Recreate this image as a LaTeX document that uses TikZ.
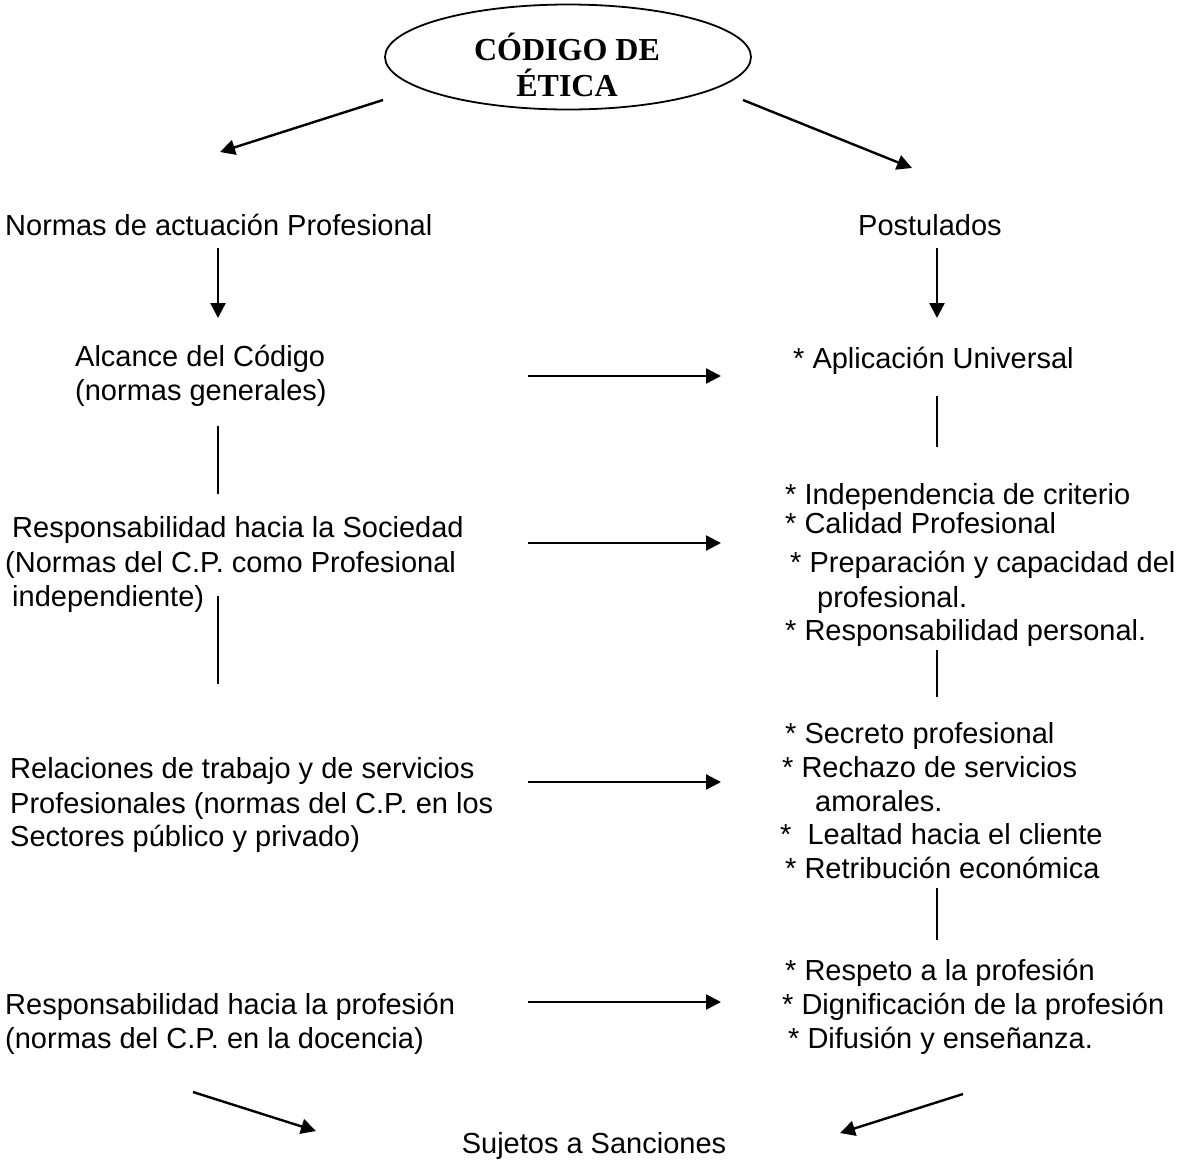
\documentclass[tikz,border=0pt]{standalone}
\usepackage{fontspec}
\setmainfont{Liberation Sans}
\newfontfamily\titlefont{Liberation Serif}
\usetikzlibrary{arrows.meta,shapes.geometric}
\begin{document}
\begin{tikzpicture}[x=1pt,y=-1pt,
  txt/.style={anchor=base west,inner sep=0pt,font=\fontsize{29}{34}\selectfont},
  ctr/.style={anchor=base,inner sep=0pt,font=\fontsize{29}{34}\selectfont},
  ttl/.style={anchor=base,inner sep=0pt,font=\titlefont\bfseries\fontsize{32}{37}\selectfont},
  arr/.style={line width=2.4pt,-{Triangle[length=15pt,width=15pt]}},
  ln/.style={line width=2.2pt}]
\useasboundingbox (0,0) rectangle (1178,1160);
\fill[white] (0,0) rectangle (1178,1160);

% title
\node[ellipse,draw,line width=1.8pt,minimum width=366pt,minimum height=105pt,inner sep=0pt] (code) at (568,57) {};
\node[ttl] (t1) at (567,60) {CÓDIGO DE};
\node[ttl] (t2) at (567,96) {ÉTICA};

% left column
\node[txt] (nap) at (5,235) {Normas de actuación Profesional};
\node[txt] (alc1) at (75,366) {Alcance del Código};
\node[txt] (alc2) at (75,400) {(normas generales)};
\node[txt] (soc1) at (12,537) {Responsabilidad hacia la Sociedad};
\node[txt] (soc2) at (5,572) {(Normas del C.P. como Profesional};
\node[txt] (soc3) at (12,606) {independiente)};
\node[txt] (rel1) at (10,778) {Relaciones de trabajo y de servicios};
\node[txt] (rel2) at (10,813) {Profesionales (normas del C.P. en los};
\node[txt] (rel3) at (10,846) {Sectores público y privado)};
\node[txt] (prof1) at (5,1014) {Responsabilidad hacia la profesión};
\node[txt] (prof2) at (5,1048) {(normas del C.P. en la docencia)};

% right column
\node[txt] (post) at (858,235) {Postulados};
\node[txt] (p1) at (793,368) {* Aplicación Universal};
\node[txt] (p2) at (785,504) {* Independencia de criterio};
\node[txt] (p3) at (785,533) {* Calidad Profesional};
\node[txt] (p4) at (790,572) {* Preparación y capacidad del};
\node[txt] (p4b) at (817,607) {profesional.};
\node[txt] (p5) at (785,640) {* Responsabilidad personal.};
\node[txt] (p6) at (785,743) {* Secreto profesional};
\node[txt] (p7) at (782,777) {* Rechazo de servicios};
\node[txt] (p7b) at (815,811) {amorales.};
\node[txt] (p8) at (780,844) {*\ \ Lealtad hacia el cliente};
\node[txt] (p9) at (785,878) {* Retribución económica};
\node[txt] (p10) at (785,980) {* Respeto a la profesión};
\node[txt] (p11) at (782,1014) {* Dignificación de la profesión};
\node[txt] (p12) at (788,1048) {* Difusión y enseñanza.};

% bottom
\node[ctr] (sanc) at (594,1153) {Sujetos a Sanciones};

% connector ends
\coordinate (tl0) at (383,100); \coordinate (tl1) at (220,152);
\coordinate (tr0) at (743,100); \coordinate (tr1) at (912,168);
\coordinate (dl0) at (218,248); \coordinate (dl1) at (218,318);
\coordinate (dr0) at (937,248); \coordinate (dr1) at (937,318);
\coordinate (h1a) at (528,376); \coordinate (h1b) at (721,376);
\coordinate (h2a) at (528,543); \coordinate (h2b) at (721,543);
\coordinate (h3a) at (528,782); \coordinate (h3b) at (721,782);
\coordinate (h4a) at (528,1002); \coordinate (h4b) at (721,1002);
\coordinate (vl1a) at (218,426); \coordinate (vl1b) at (218,494);
\coordinate (vl2a) at (218,596); \coordinate (vl2b) at (218,684);
\coordinate (vr1a) at (937,396); \coordinate (vr1b) at (937,447);
\coordinate (vr2a) at (937,650); \coordinate (vr2b) at (937,697);
\coordinate (vr3a) at (937,888); \coordinate (vr3b) at (937,940);
\coordinate (bl0) at (193,1092); \coordinate (bl1) at (316,1131);
\coordinate (br0) at (963,1094); \coordinate (br1) at (840,1133);

% connectors
\draw[arr] (tl0) -- (tl1);
\draw[arr] (tr0) -- (tr1);
\draw[arr] (dl0) -- (dl1);
\draw[arr] (dr0) -- (dr1);
\draw[arr] (h1a) -- (h1b);
\draw[arr] (h2a) -- (h2b);
\draw[arr] (h3a) -- (h3b);
\draw[arr] (h4a) -- (h4b);
\draw[ln] (vl1a) -- (vl1b);
\draw[ln] (vl2a) -- (vl2b);
\draw[ln] (vr1a) -- (vr1b);
\draw[ln] (vr2a) -- (vr2b);
\draw[ln] (vr3a) -- (vr3b);
\draw[arr] (bl0) -- (bl1);
\draw[arr] (br0) -- (br1);
\end{tikzpicture}
\end{document}
